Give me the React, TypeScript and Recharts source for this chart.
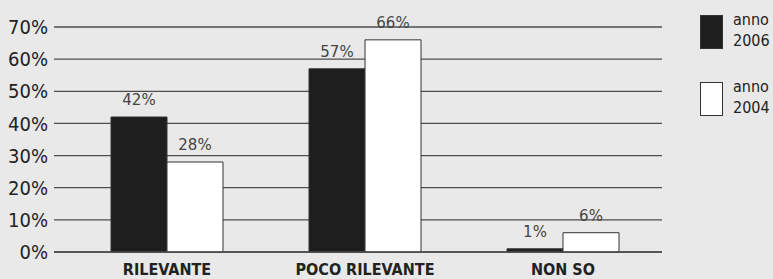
import React from "react";
import { BarChart, Bar, XAxis, YAxis, CartesianGrid, Legend, LabelList } from "recharts";

const categories = ["RILEVANTE", "POCO RILEVANTE", "NON SO"];
const values2006 = [42, 57, 1];
const values2004 = [28, 66, 6];
const yTicks = [0, 10, 20, 30, 40, 50, 60, 70];
const seriesNames = ["anno 2006", "anno 2004"];

const data = categories.map((c, i) => ({ name: c, y2006: values2006[i], y2004: values2004[i] }));

const BG = "#e9e9e9";

const LegendContent = (props: any) => {
  const payload = [...(props.payload || [])].sort(
    (a: any, b: any) => seriesNames.indexOf(a.value) - seriesNames.indexOf(b.value)
  );
  return (
    <div>
      {payload.map((p: any, i: number) => {
        const parts = String(p.value).split(" ");
        return (
          <div key={i} style={{ display: "flex", height: 67, alignItems: "flex-start" }}>
            <div
              style={{
                width: 21,
                height: 32,
                marginTop: 7,
                flex: "none",
                background: p.payload?.fill || p.color,
                border: "1px solid #333",
              }}
            />
            <div
              style={{
                marginLeft: 10,
                marginTop: 1,
                fontFamily: "'DejaVu Sans Condensed', 'DejaVu Sans', sans-serif",
                fontSize: 16,
                lineHeight: "21px",
                color: "#222",
                whiteSpace: "nowrap",
              }}
            >
              <div>{parts[0]}</div>
              <div>{parts[1]}</div>
            </div>
          </div>
        );
      })}
    </div>
  );
};

export default function App() {
  if (typeof document !== "undefined") {
    document.documentElement.style.background = BG;
    document.body.style.background = BG;
    document.body.style.margin = "0";
  }
  return (
    <div style={{ width: 765, height: 271, paddingLeft: 8, paddingTop: 8, background: BG, overflow: "hidden" }}>
      <BarChart
        width={765}
        height={271}
        data={data}
        margin={{ top: 19, right: 38, bottom: 0, left: 0 }}
        barSize={56}
        barGap={0}
      >
        <CartesianGrid vertical={false} stroke="#4d4d4d" strokeWidth={1.3} />
        <XAxis
          dataKey="name"
          height={27}
          padding={{ left: 14, right: 0 }}
          axisLine={{ stroke: "#4d4d4d", strokeWidth: 1.3 }}
          tickLine={false}
          tickSize={0}
          tickMargin={12}
          interval={0}
          tick={{
            fill: "#222",
            fontSize: 16,
            fontWeight: "bold",
            fontFamily: "'DejaVu Sans Condensed', 'DejaVu Sans', sans-serif",
          }}
        />
        <YAxis
          width={46}
          domain={[0, 70]}
          ticks={yTicks}
          axisLine={false}
          tickLine={false}
          tickSize={0}
          tickMargin={6}
          tickFormatter={(v: number) => `${v}%`}
          tick={{
            fill: "#222",
            fontSize: 20,
            fontFamily: "'DejaVu Sans Condensed', 'DejaVu Sans', sans-serif",
          }}
        />
        <Legend
          layout="vertical"
          align="right"
          verticalAlign="top"
          content={<LegendContent />}
          wrapperStyle={{ position: "absolute", left: 692, top: 0, width: 73, overflow: "visible" }}
        />
        <Bar dataKey="y2006" name={seriesNames[0]} fill="#1e1e1e" stroke="#333" strokeWidth={1} isAnimationActive={false}>
          <LabelList
            dataKey="y2006"
            position="top"
            offset={12}
            formatter={(v: any) => `${v}%`}
            style={{ fill: "#444", fontSize: 15, fontFamily: "'DejaVu Sans', sans-serif" }}
          />
        </Bar>
        <Bar dataKey="y2004" name={seriesNames[1]} fill="#ffffff" stroke="#333" strokeWidth={1} isAnimationActive={false}>
          <LabelList
            dataKey="y2004"
            position="top"
            offset={12}
            formatter={(v: any) => `${v}%`}
            style={{ fill: "#444", fontSize: 15, fontFamily: "'DejaVu Sans', sans-serif" }}
          />
        </Bar>
      </BarChart>
    </div>
  );
}
